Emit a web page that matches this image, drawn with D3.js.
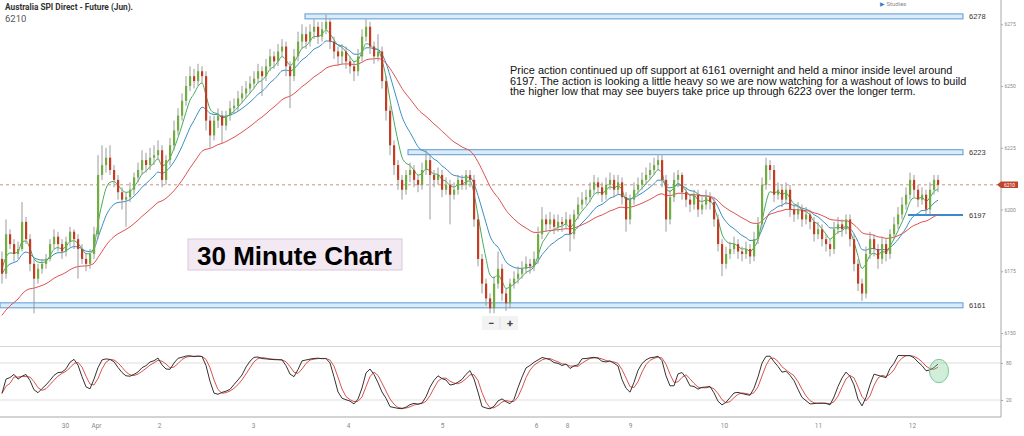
<!DOCTYPE html>
<html><head><meta charset="utf-8">
<script src="https://cdn.jsdelivr.net/npm/d3@7"></script>
<style>body{margin:0;background:#fff;overflow:hidden}svg{display:block}</style>
</head><body><svg id="c" width="1024" height="436"></svg>
<script>
// ---- data (30-minute bars) ----
const firstOpen = 6180;
const closes = [6174,6190,6186,6182,6184,6195,6188,6178,6172,6176,6178,6180,6186,6189,6186,6183,6187,6191,6188,6184,
6180,6178,6182,6190,6214,6218,6221,6216,6212,6207,6204,6205,6208,6213,6216,6220,6218,6221,6222,6224,
6212,6220,6226,6232,6238,6244,6250,6254,6252,6256,6254,6236,6230,6236,6238,6234,6238,6241,6242,6245,
6247,6249,6251,6253,6256,6254,6258,6262,6260,6264,6266,6258,6254,6262,6268,6271,6268,6272,6274,6270,
6273,6276,6268,6264,6262,6264,6260,6258,6256,6262,6270,6274,6266,6262,6264,6252,6240,6226,6218,6212,
6208,6214,6216,6212,6210,6216,6220,6214,6212,6214,6208,6210,6206,6208,6212,6210,6214,6212,6196,6180,
6170,6164,6160,6170,6176,6166,6162,6170,6172,6174,6176,6178,6177,6180,6190,6196,6194,6196,6193,6195,
6194,6196,6190,6198,6202,6204,6205,6208,6211,6209,6206,6210,6212,6208,6211,6205,6196,6204,6208,6210,
6212,6214,6216,6218,6220,6212,6196,6205,6212,6214,6207,6204,6202,6206,6200,6202,6205,6203,6196,6186,
6178,6182,6184,6186,6183,6182,6184,6181,6188,6194,6210,6218,6216,6206,6208,6204,6208,6200,6198,6200,
6196,6198,6195,6190,6192,6188,6186,6184,6192,6194,6192,6196,6188,6178,6170,6166,6182,6188,6184,6180,
6186,6182,6190,6194,6198,6202,6206,6212,6208,6204,6206,6200,6208,6212,6210];
const highs = [6183,6196,6192,6188,6187,6203,6197,6190,6180,6178,6180,6182,6188,6192,6191,6188,6189,6193,6192,6190,
6186,6182,6184,6193,6222,6226,6225,6226,6218,6214,6209,6207,6211,6215,6219,6224,6223,6225,6226,6228,
6226,6222,6229,6236,6241,6247,6254,6258,6257,6259,6258,6256,6238,6238,6241,6240,6240,6244,6245,6248,
6250,6252,6254,6256,6259,6258,6261,6265,6264,6267,6269,6268,6260,6265,6272,6275,6274,6275,6277,6276,
6276,6279,6277,6270,6266,6267,6266,6262,6260,6265,6273,6277,6276,6268,6271,6266,6254,6242,6228,6220,
6214,6216,6219,6218,6214,6219,6224,6222,6216,6217,6216,6213,6212,6211,6214,6214,6216,6216,6214,6198,
6182,6172,6166,6173,6183,6178,6168,6172,6175,6177,6179,6181,6180,6183,6193,6201,6198,6199,6198,6198,
6197,6199,6198,6200,6205,6207,6208,6211,6214,6213,6211,6213,6215,6214,6214,6213,6207,6206,6211,6213,
6215,6217,6219,6221,6222,6222,6214,6208,6215,6216,6215,6209,6206,6208,6208,6205,6208,6207,6205,6198,
6188,6185,6187,6189,6188,6185,6187,6186,6191,6197,6213,6221,6220,6218,6211,6210,6211,6210,6202,6203,
6202,6201,6200,6197,6195,6194,6190,6188,6195,6197,6196,6198,6198,6190,6180,6172,6185,6191,6190,6186,
6189,6188,6192,6197,6201,6205,6209,6215,6214,6210,6209,6208,6211,6214,6214];
const lows = [6170,6172,6184,6179,6180,6183,6186,6175,6158,6170,6174,6176,6179,6184,6183,6180,6181,6185,6184,6172,
6178,6175,6176,6180,6188,6212,6215,6214,6209,6204,6200,6193,6203,6206,6211,6214,6215,6216,6218,6220,
6209,6210,6218,6224,6230,6236,6242,6248,6249,6250,6251,6232,6225,6228,6233,6227,6232,6236,6239,6240,
6243,6245,6247,6249,6251,6246,6252,6256,6257,6258,6262,6254,6241,6252,6260,6265,6265,6266,6269,6267,
6268,6271,6265,6261,6258,6259,6257,6255,6252,6254,6260,6268,6263,6259,6260,6249,6236,6222,6214,6208,
6204,6206,6211,6209,6207,6208,6214,6196,6209,6210,6205,6206,6194,6204,6206,6208,6208,6209,6193,6177,
6166,6161,6158,6158,6168,6163,6159,6160,6168,6170,6172,6174,6174,6175,6178,6188,6191,6192,6190,6191,
6191,6192,6183,6188,6196,6200,6202,6203,6206,6206,6203,6204,6208,6205,6206,6202,6191,6194,6202,6206,
6208,6210,6212,6214,6216,6209,6191,6194,6203,6209,6204,6201,6199,6200,6197,6198,6200,6200,6193,6183,
6173,6176,6180,6182,6180,6179,6180,6178,6179,6186,6192,6208,6212,6203,6204,6201,6202,6197,6195,6196,
6193,6194,6192,6187,6188,6185,6183,6181,6182,6190,6189,6190,6185,6175,6167,6163,6164,6180,6181,6176,
6178,6179,6180,6188,6192,6196,6200,6204,6205,6201,6202,6198,6198,6206,6207];
const dayTickIndex  = [15.75, 23.5, 39.25, 62.75, 86.5, 110, 133.5, 141.25, 157, 180.5, 204, 227.5];
const dayTickLabels = ["30", "Apr", "2", "3", "4", "5", "6", "8", "9", "10", "11", "12"];
const priceTicks = [6150, 6175, 6200, 6225, 6250, 6275];
const oscTicks = [20, 80];
const lastPrice = 6210;
const levelValues = [6278, 6223, 6161];
const levelStartIndex = [75.75, 101.5, -0.5];
const minorLevel = 6197, minorLevelStart = 226.5;
const levelEndIndex = 240.25;
const maPeriods = [5, 12, 30];
const maSeeds = [6177, 6174, 6156];
const maColors = ["#45ad5a", "#3b8fc4", "#e05252"];
const stochLen = 10;
const noteLines = [
 "Price action continued up off support at 6161 overnight and held a minor inside level around",
 "6197. The action is looking a little heavy so we are now watching for a washout of lows to build",
 "the higher low that may see buyers take price up through 6223 over the longer term."];

// ---- chart ----
const N = closes.length;
const opens = closes.map((c, i) => i === 0 ? firstOpen : closes[i - 1]);
const svg = d3.select("#c");
const x = d3.scaleLinear().domain([0, N - 1]).range([2, 938]);
const y = d3.scaleLinear().domain([6150, 6275]).range([333, 24.3]);
const yo = d3.scaleLinear().domain([20, 80]).range([400, 363]);
const W = 1001;

svg.append("defs").append("clipPath").attr("id", "mainclip")
  .append("rect").attr("x", 0).attr("y", 0).attr("width", W).attr("height", 345);

// oscillator grid
svg.append("line").attr("x1", 0).attr("x2", W).attr("y1", 346.5).attr("y2", 346.5).attr("stroke", "#d6d6d6");
oscTicks.forEach(t => svg.append("line").attr("x1", 0).attr("x2", W).attr("y1", yo(t)).attr("y2", yo(t)).attr("stroke", "#dedede"));

// dashed last price line
svg.append("line").attr("x1", 0).attr("x2", W).attr("y1", y(lastPrice)).attr("y2", y(lastPrice))
  .attr("stroke", "#cf8f7c").attr("stroke-dasharray", "3,3");

const main = svg.append("g").attr("clip-path", "url(#mainclip)");

// level boxes
levelValues.forEach((v, k) => {
  main.append("rect").attr("x", x(levelStartIndex[k])).attr("y", y(v) - 3)
    .attr("width", x(levelEndIndex) - x(levelStartIndex[k])).attr("height", 5)
    .attr("fill", "#dcebf8").attr("stroke", "#5a9bd4").attr("stroke-width", 1);
  svg.append("text").attr("x", 969).attr("y", y(v) - 0.5).attr("dy", "0.35em")
    .attr("font-family", "Liberation Sans, Arial, sans-serif").attr("font-size", 7.5).attr("fill", "#333").text(v);
});
main.append("line").attr("x1", x(minorLevelStart)).attr("x2", x(levelEndIndex))
  .attr("y1", y(minorLevel) - 2).attr("y2", y(minorLevel) - 2).attr("stroke", "#3a88cf").attr("stroke-width", 2);
svg.append("text").attr("x", 969).attr("y", y(minorLevel) - 1.5).attr("dy", "0.35em")
  .attr("font-family", "Liberation Sans, Arial, sans-serif").attr("font-size", 7.5).attr("fill", "#333").text(minorLevel);

// moving averages (EMA of closes)
maPeriods.forEach((p, k) => {
  const a = 2 / (p + 1);
  let prev = maSeeds[k];
  const vals = closes.map(c => (prev = prev + a * (c - prev)));
  main.append("path").datum(vals)
    .attr("d", d3.line().x((d, i) => x(i)).y(d => y(d)).curve(d3.curveMonotoneX))
    .attr("fill", "none").attr("stroke", maColors[k]).attr("stroke-width", 1);
});

// candles
const cg = main.append("g");
closes.forEach((c, i) => {
  const o = opens[i];
  const col = c > o ? "#72ad43" : (c < o ? "#c23d24" : "#999");
  cg.append("line").attr("x1", x(i)).attr("x2", x(i)).attr("y1", y(highs[i])).attr("y2", y(lows[i]))
    .attr("stroke", "#9a9a9a").attr("stroke-width", 1);
  const top = y(Math.max(o, c)), bot = y(Math.min(o, c));
  cg.append("rect").attr("x", x(i) - 1).attr("width", 2.2).attr("y", top).attr("height", Math.max(1, bot - top))
    .attr("fill", col);
});

// stochastic oscillator
const raw = closes.map((c, i) => {
  const s = Math.max(0, i - stochLen + 1);
  const hh = d3.max(highs.slice(s, i + 1)), ll = d3.min(lows.slice(s, i + 1));
  return hh === ll ? 50 : 100 * (c - ll) / (hh - ll);
});
const sma = (arr, p) => arr.map((v, i) => d3.mean(arr.slice(Math.max(0, i - p + 1), i + 1)));
const K = sma(raw, 3), D = sma(K, 3);
const oline = d3.line().x((d, i) => x(i)).y(d => yo(d));
svg.append("path").datum(D).attr("d", oline).attr("fill", "none").attr("stroke", "#d9534f").attr("stroke-width", 1);
svg.append("path").datum(K).attr("d", oline).attr("fill", "none").attr("stroke", "#333").attr("stroke-width", 1);
svg.append("ellipse").attr("cx", 939).attr("cy", 371).attr("rx", 9.5).attr("ry", 11.7)
  .attr("fill", "rgba(120,205,150,0.35)").attr("stroke", "#7cc79a").attr("stroke-width", 1);

// axes
svg.append("line").attr("x1", W).attr("x2", W).attr("y1", 0).attr("y2", 417).attr("stroke", "#a8a8a8");
svg.append("line").attr("x1", 0).attr("x2", W).attr("y1", 417).attr("y2", 417).attr("stroke", "#a8a8a8");
const ay = svg.append("g").attr("transform", `translate(${W},0)`)
  .call(d3.axisRight(y).tickValues(priceTicks).tickSize(2).tickPadding(1.5).tickFormat(d3.format("d")));
const ao = svg.append("g").attr("transform", `translate(${W},0)`)
  .call(d3.axisRight(yo).tickValues(oscTicks).tickSize(2).tickPadding(3));
const ax = svg.append("g").attr("transform", "translate(0,417)")
  .call(d3.axisBottom(x).tickValues(dayTickIndex).tickFormat((d, i) => dayTickLabels[i]).tickSize(0).tickPadding(6));
[ay, ao, ax].forEach(g => {
  g.select(".domain").remove();
  g.selectAll("text").attr("fill", "#888").attr("font-family", "Roboto, sans-serif");
  g.selectAll("line").attr("stroke", "#aaa");
});
ay.selectAll("text").attr("font-size", 5);
ao.selectAll("text").attr("font-size", 5);
ax.selectAll("text").attr("font-size", 6.5);

// last price tag
const ty = y(lastPrice);
svg.append("path").attr("d", `M997,${ty} L1001,${ty - 3.2} L1018,${ty - 3.2} L1018,${ty + 3.2} L1001,${ty + 3.2} Z`).attr("fill", "#c0432c");
svg.append("text").attr("x", 1009.5).attr("y", ty).attr("dy", "0.35em").attr("text-anchor", "middle")
  .attr("font-family", "Roboto, sans-serif").attr("font-size", 5).attr("fill", "#fff").text(lastPrice);

// title
svg.append("text").attr("x", 5).attr("y", 10).attr("font-family", "Roboto, sans-serif").attr("font-weight", "bold")
  .attr("font-size", 9.5).attr("fill", "#333").attr("textLength", 128).attr("lengthAdjust", "spacingAndGlyphs")
  .text("Australia SPI Direct - Future (Jun).");
svg.append("text").attr("x", 5).attr("y", 22).attr("font-family", "Roboto, sans-serif")
  .attr("font-size", 9.5).attr("fill", "#555").text(lastPrice);
svg.append("text").attr("x", 880).attr("y", 5.5).attr("font-family", "Roboto, sans-serif").attr("font-size", 6)
  .attr("fill", "#888").html('<tspan fill="#3a7fc8">▶</tspan>  Studies');

// note text
const note = svg.append("g").attr("font-family", "Liberation Sans, Arial, sans-serif").attr("fill", "#111");
const t0 = note.append("text").attr("font-size", 10).text(noteLines[0]);
const fs = 10 * 443 / t0.node().getComputedTextLength();
t0.remove();
noteLines.forEach((l, k) => note.append("text").attr("x", 510).attr("y", 74 + k * 10.7).attr("font-size", fs).text(l));

// 30 minute chart label
svg.append("rect").attr("x", 188).attr("y", 239).attr("width", 214).attr("height", 31)
  .attr("fill", "#f2e9f3").attr("stroke", "#d9c8dc");
svg.append("text").attr("x", 197).attr("y", 265).attr("font-family", "Liberation Sans, Arial, sans-serif")
  .attr("font-weight", "bold").attr("font-size", 26).attr("fill", "#000").text("30 Minute Chart");

// zoom buttons
svg.append("rect").attr("x", 482).attr("y", 316).attr("width", 36).attr("height", 14).attr("fill", "#f3f3f3");
svg.append("line").attr("x1", 500).attr("x2", 500).attr("y1", 317).attr("y2", 329).attr("stroke", "#e2e2e2");
svg.append("text").attr("x", 491).attr("y", 327).attr("text-anchor", "middle").attr("font-family", "Roboto, sans-serif")
  .attr("font-size", 11).attr("font-weight", "bold").attr("fill", "#444").text("−");
svg.append("text").attr("x", 510).attr("y", 327).attr("text-anchor", "middle").attr("font-family", "Roboto, sans-serif")
  .attr("font-size", 11).attr("font-weight", "bold").attr("fill", "#444").text("+");
</script></body></html>
